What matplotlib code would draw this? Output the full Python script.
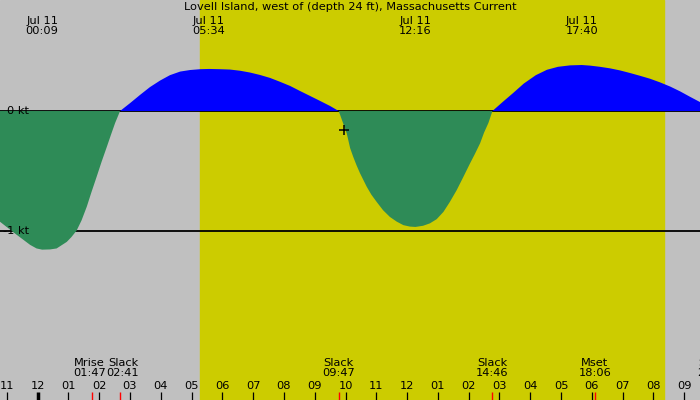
import matplotlib
matplotlib.use("Agg")
import matplotlib.pyplot as plt

# tidal current, hours after midnight Jul 11 (negative = Jul 10), knots
hours = [-1.22, -0.73, -0.24, -0.03, 0.15, 0.41, 0.62, 0.95, 1.10, 1.27, 1.43, 1.60,
         1.75, 1.92, 2.08, 2.25, 2.39, 2.52, 2.68,
         3.00, 3.33, 3.65, 3.98, 4.30, 4.63, 4.95, 5.28, 5.57, 5.93, 6.25, 6.58, 6.90,
         7.22, 7.55, 7.87, 8.20, 8.52, 8.85, 9.17, 9.50, 9.78,
         10.04, 10.15, 10.25, 10.36, 10.47, 10.69, 10.84, 11.01, 11.22, 11.44, 11.66,
         11.88, 12.09, 12.27, 12.52, 12.74, 12.96, 13.18, 13.39, 13.61, 13.81, 14.04,
         14.20, 14.37, 14.50, 14.64, 14.77,
         15.10, 15.44, 15.79, 16.18, 16.54, 16.90, 17.29, 17.67, 17.94, 18.26, 18.59,
         18.91, 19.24, 19.56, 19.89, 20.21, 20.54, 20.86, 21.18, 21.51, 21.95]
knots = [-0.926, -1.025, -1.12, -1.15, -1.16, -1.158, -1.15, -1.095, -1.055, -1.0, -0.915, -0.80,
         -0.68, -0.55, -0.425, -0.30, -0.195, -0.10, 0.0,
         0.065, 0.135, 0.20, 0.255, 0.30, 0.33, 0.343, 0.35, 0.352, 0.35, 0.347, 0.337, 0.322,
         0.302, 0.277, 0.245, 0.21, 0.168, 0.126, 0.085, 0.042, 0.0,
         -0.187, -0.31, -0.383, -0.455, -0.52, -0.634, -0.70, -0.76, -0.83, -0.886, -0.925,
         -0.955, -0.967, -0.97, -0.96, -0.94, -0.905, -0.844, -0.76, -0.662, -0.56, -0.44,
         -0.36, -0.27, -0.18, -0.10, 0.0,
         0.075, 0.15, 0.23, 0.30, 0.345, 0.37, 0.382, 0.385, 0.38, 0.37, 0.357,
         0.34, 0.318, 0.295, 0.27, 0.24, 0.205, 0.165, 0.12, 0.075, 0.0]

# max current labels on top
peak_hours = [0.15, 5.567, 12.267, 17.667]
peak_labels = ["Jul 11\n00:09", "Jul 11\n05:34", "Jul 11\n12:16", "Jul 11\n17:40"]

# slack / moon events at the bottom
event_hours = [1.783, 2.683, 9.783, 14.767, 18.1, 21.95]
event_names = ["Mrise", "Slack", "Slack", "Slack", "Mset", "Slack"]
event_times = ["01:47", "02:41", "09:47", "14:46", "18:06", "21:57"]
event_shift = [-2, 2, 0, 0, 0, 0]   # points, so neighbouring labels don't collide

sunrise = 5.27
sunset = 20.33

tick_hours = list(range(-1, 22))
tick_labels = ["11", "12", "01", "02", "03", "04", "05", "06", "07", "08", "09", "10",
               "11", "12", "01", "02", "03", "04", "05", "06", "07", "08", "09"]

now_hour, now_kt = 9.95, -0.16

title = "Lovell Island, west of (depth 24 ft), Massachusetts Current"

plt.rcParams['font.family'] = ['DejaVu Sans']
FS = 8.2

fig = plt.figure(figsize=(7, 4), dpi=100)
ax = fig.add_axes([0, 0, 1, 1])
x0, x1 = -1.218, 21.51
ax.set_xlim(x0, x1)
ax.set_ylim(-2.418, 0.929)
ax.axis('off')

# night / day background
ax.axvspan(x0, x1, color='#c0c0c0', zorder=0)
ax.axvspan(sunrise, sunset, color='#cccc00', zorder=0.5)

# reference lines under the fills
ax.axhline(0, color='black', lw=1.3, zorder=1)
ax.axhline(-1, color='black', lw=1.3, zorder=1)

ax.fill_between(hours, knots, 0, where=[k <= 0 for k in knots], interpolate=True,
                color='#2e8b57', lw=0, zorder=2)
ax.fill_between(hours, knots, 0, where=[k >= 0 for k in knots], interpolate=True,
                color='#0000ff', lw=0, zorder=2)

ax.plot([now_hour], [now_kt], marker='+', color='black', ms=7, mew=1.1, zorder=3)

# y labels
yt = ax.get_yaxis_transform()
ax.text(0.041, 0, "0 kt", transform=yt, ha='right', va='center', fontsize=FS)
ax.text(0.041, -1, "-1 kt", transform=yt, ha='right', va='center', fontsize=FS)

xt = ax.get_xaxis_transform()
ax.text(0.5, 1 - 7.5 / 400, title, transform=ax.transAxes, ha='center', va='center', fontsize=FS)
for h, lab in zip(peak_hours, peak_labels):
    ax.text(h, 1 - 25.5 / 400, lab, transform=xt, ha='center', va='center',
            fontsize=FS, linespacing=1.0)

for h, name, tm, dx in zip(event_hours, event_names, event_times, event_shift):
    ax.annotate(name + "\n" + tm, (h, 1 - 367.5 / 400), xycoords=xt,
                xytext=(dx, 0), textcoords='offset points',
                ha='center', va='center', fontsize=FS, linespacing=1.0, annotation_clip=False)
    ax.vlines(h, 0, 8 / 400, transform=xt, color='red', lw=1)

# hour ticks
for h, lab in zip(tick_hours, tick_labels):
    ax.vlines(h, 0, 8 / 400, transform=xt, color='black', lw=2.5 if h == 0 else 0.9)
    ax.text(h, 1 - 386 / 400, lab, transform=xt, ha='center', va='center', fontsize=FS)

fig.savefig("out.png", dpi=100)
